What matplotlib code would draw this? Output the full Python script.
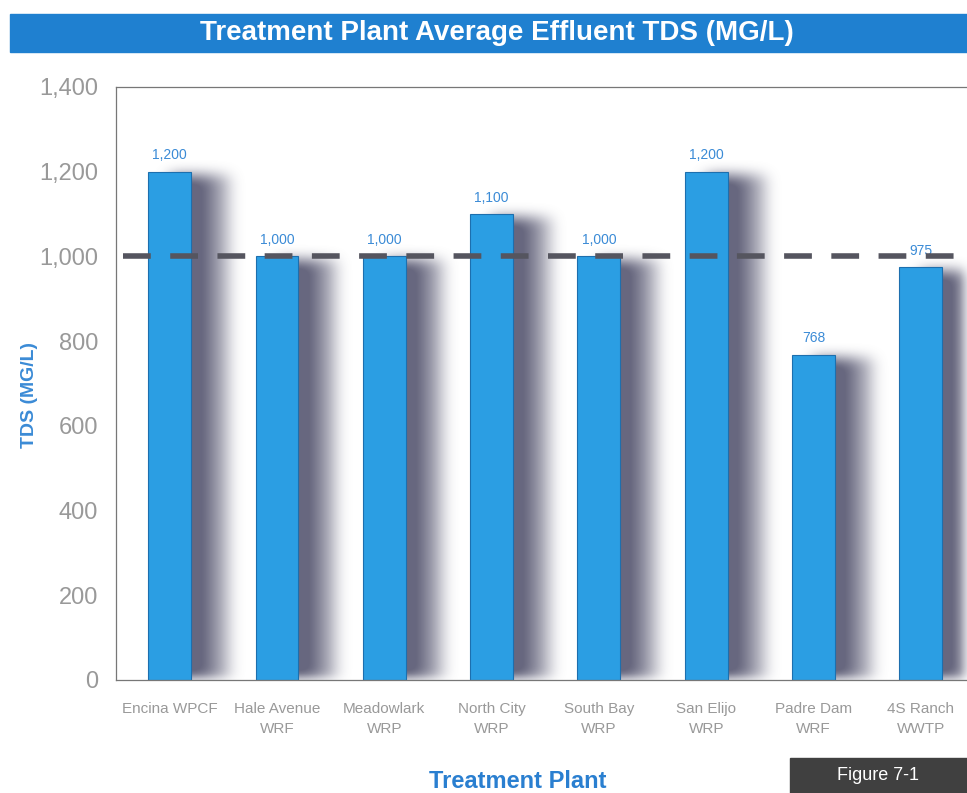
import numpy as np
import matplotlib.pyplot as plt
from matplotlib.patches import Rectangle

plants = ["Encina WPCF", "Hale Avenue\nWRF", "Meadowlark\nWRP", "North City\nWRP",
          "South Bay\nWRP", "San Elijo\nWRP", "Padre Dam\nWRF", "4S Ranch\nWWTP"]
tds = [1200, 1000, 1000, 1100, 1000, 1200, 768, 975]
labels = ["1,200", "1,000", "1,000", "1,100", "1,000", "1,200", "768", "975"]
limit = 1000

bar_col = "#2b9ee3"
text_blue = "#3b8bd6"
gray = "#999999"

plt.rcParams['font.family'] = ['Liberation Sans', 'DejaVu Sans']
fig = plt.figure(figsize=(9.67, 7.93), dpi=100)

# title banner
fig.patches.append(Rectangle((10/967, 1-52/793), 1, 38/793, transform=fig.transFigure,
                             color="#1f80d0", zorder=0))
fig.text(0.514, 1-33/793, "Treatment Plant Average Effluent TDS (MG/L)", color="white",
         fontsize=20, fontweight="bold", ha="center", va="center")

ax = fig.add_axes([116/967, 1-680/793, 1-116/967, (680-87)/793])
x = np.arange(len(tds))
xmin, xmax = -0.5, 7.43
ax.set_xlim(xmin, xmax)
ax.set_ylim(0, 1400)

# blurred drop shadow behind the bars
nx, ny = 900, 700
xs = np.linspace(xmin, xmax, nx)
ys = np.linspace(0, 1400, ny)
X, Y = np.meshgrid(xs, ys)
mask = np.zeros((ny, nx))
for xi, h in zip(x, tds):
    inside = (X > xi) & (X < xi + 0.56) & (Y < h - 8)
    # darker close to the bar, fading to the right
    fade = np.clip(1.0 - (X - (xi + 0.28)) / 0.4, 0.3, 1.0)
    mask = np.where(inside, fade, mask)
k = np.ones(15) / 15
for _ in range(3):
    mask = np.apply_along_axis(lambda r: np.convolve(r, k, mode="same"), 1, mask)
    mask = np.apply_along_axis(lambda c: np.convolve(c, k, mode="same"), 0, mask)
rgba = np.zeros((ny, nx, 4))
rgba[..., 0] = 0.34
rgba[..., 1] = 0.34
rgba[..., 2] = 0.44
rgba[..., 3] = np.clip(mask * 1.1, 0, 1) * 0.9
ax.imshow(rgba, extent=(xmin, xmax, 0, 1400), origin="lower", aspect="auto", zorder=1)

ax.bar(x, tds, width=0.4, color=bar_col, edgecolor="#1d6fae", linewidth=0.8, zorder=2)
for xi, h, lab in zip(x, tds, labels):
    ax.text(xi, h + 22, lab, ha="center", va="bottom", color=text_blue, fontsize=10)

ax.axhline(limit, xmin=0.008, color="#55555f", linewidth=4, dashes=(5, 3.5), zorder=3)

ax.spines["right"].set_visible(False)
for s in ["left", "top", "bottom"]:
    ax.spines[s].set_color("#777777")
    ax.spines[s].set_linewidth(0.9)

ax.set_yticks(range(0, 1401, 200))
ax.set_yticklabels([f"{v:,}" for v in range(0, 1401, 200)], fontsize=17, color=gray)
ax.set_xticks(x)
ax.set_xticklabels(plants, fontsize=11, color=gray, linespacing=1.5)
ax.tick_params(axis="y", length=0, pad=13)
ax.tick_params(axis="x", length=0, pad=16)

ax.set_ylabel("TDS (MG/L)", fontsize=14, fontweight="bold", color=text_blue)
ax.yaxis.set_label_coords(-78/851, 0.48)
fig.text(518/967, 1-781/793, "Treatment Plant", fontsize=17, fontweight="bold",
         color="#2a7fd0", ha="center", va="center")

fig.patches.append(Rectangle((790/967, 0), 1, 35/793, transform=fig.transFigure,
                             color="#404040", zorder=0))
fig.text(878/967, 1-775/793, "Figure 7-1", fontsize=13, color="white",
         ha="center", va="center")

fig.savefig("out.png", dpi=100)
